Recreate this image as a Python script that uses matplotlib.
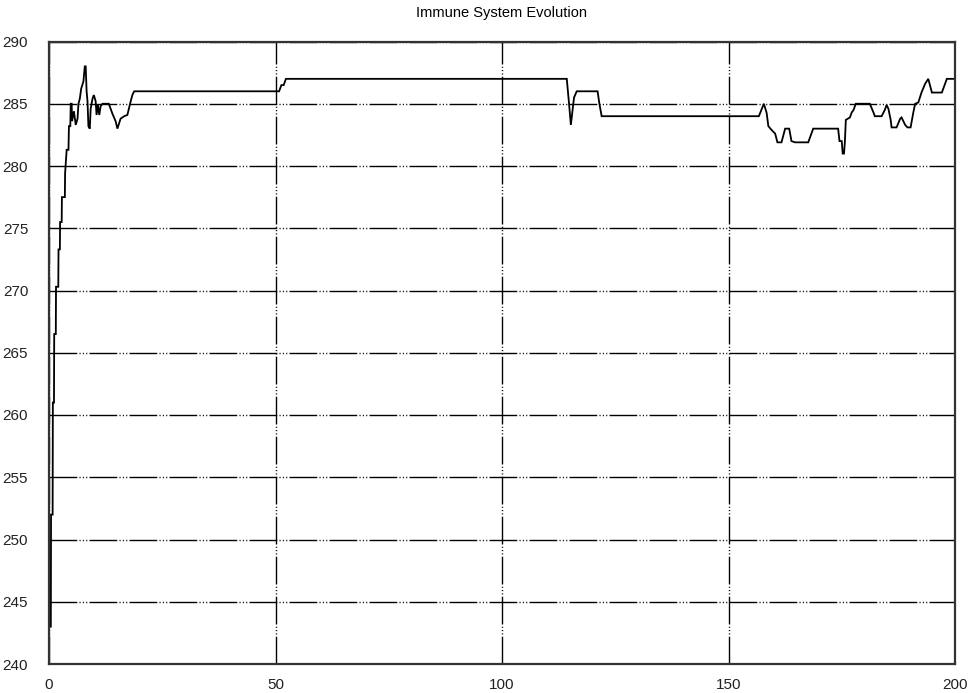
import matplotlib
matplotlib.use("Agg")
import matplotlib.pyplot as plt

# best fitness per generation (fractional x = sub-generation updates)
gen = [0, 0.4, 0.45, 0.8, 0.85, 1.1, 1.15, 1.5, 1.55, 2.05, 2.1, 2.4, 2.45, 2.8, 2.85,
       3.5, 3.55, 3.9, 4.3, 4.4, 4.7, 4.8,
       5.0, 5.1, 5.5, 5.9, 6.3, 6.5, 6.8, 7.1, 7.6, 7.9, 8.1, 8.3, 8.5, 8.7, 9.0, 9.2,
       9.6, 9.9, 10.3, 10.5, 10.8, 11.1, 11.4, 11.8,
       13.2, 14.0, 14.7, 15.1, 15.8, 16.6, 17.3, 17.9, 18.4, 18.8,
       50.8, 51.3, 51.8, 52.3,
       114.3, 114.8, 115.2, 115.9, 116.5, 121.1, 121.5, 122.0,
       156.7, 157.8, 158.4, 158.8, 159.5, 160.3, 160.8, 161.7, 162.5, 163.4, 163.9,
       164.7, 167.6, 168.7,
       174.2, 174.5, 175.0, 175.2, 175.5, 175.7, 175.9, 176.8, 177.2, 177.6, 178.1,
       181.2, 182.0, 182.3, 183.8, 184.5, 184.9, 185.3, 185.8, 186.0, 187.1, 187.9,
       188.2, 189.0, 189.5, 190.2,
       190.8, 191.2, 191.9, 192.6, 193.4, 194.1, 194.9, 197.1, 197.8, 198.2, 200]
fitness = [243, 243, 252, 252, 261, 261, 266.5, 266.5, 270.3, 270.3, 273.3, 273.3,
           275.5, 275.5, 277.5,
           277.5, 279.4, 281.3, 281.3, 283.2, 283.2, 285,
           285, 283.6, 284.4, 283.3, 283.8, 285, 285.4, 286.2, 286.8, 288, 288, 286,
           285.2, 283.2, 283, 284.6, 285.4, 285.7, 285.2, 284.1, 284.9, 284.1, 284.8, 285,
           285, 284.2, 283.6, 283, 283.8, 284, 284.1, 285, 285.7, 286,
           286, 286.5, 286.5, 287,
           287, 285, 283.3, 285.5, 286, 286, 285, 284,
           284, 285, 284.3, 283.2, 282.9, 282.6, 281.9, 281.9, 283, 283, 282,
           281.9, 281.9, 283,
           283, 282, 282, 281, 281, 282, 283.7, 283.9, 284.3, 284.5, 285,
           285, 284.3, 284, 284, 284.5, 284.9, 284.6, 283.7, 283.1, 283.1, 283.8,
           283.9, 283.3, 283.1, 283.1,
           284.3, 285, 285.1, 285.9, 286.6, 287, 285.9, 285.9, 286.6, 287, 287]

xticks = [0, 50, 100, 150, 200]
yticks = [240, 245, 250, 255, 260, 265, 270, 275, 280, 285, 290]

plt.rcParams['font.family'] = ['Liberation Sans', 'DejaVu Sans']

fig = plt.figure(figsize=(9.74, 6.93), dpi=100)
ax = fig.add_axes([49 / 974, 1 - 664 / 693, (955 - 49) / 974, (664 - 41.5) / 693])

ax.plot(gen, fitness, color='black', lw=1.3, solid_joinstyle='miter')

ax.set_xlim(0, 200)
ax.set_ylim(240, 290)
ax.set_xticks(xticks)
ax.set_yticks(yticks)
ax.tick_params(length=0, labelsize=11, labelcolor='#222222')
ax.tick_params(axis='y', pad=15)
ax.tick_params(axis='x', pad=10)

ax.grid(True, color='black', lw=1.0, linestyle=(0, (20, 1.6, 0.8, 1.6, 0.8, 1.6, 0.8, 1.6)))
ax.set_axisbelow(True)
for s in ax.spines.values():
    s.set_linewidth(1.6)
    s.set_color('#333333')

ax.set_title('Immune System Evolution', fontsize=10.5, pad=18)

fig.savefig('out.png', dpi=100)
